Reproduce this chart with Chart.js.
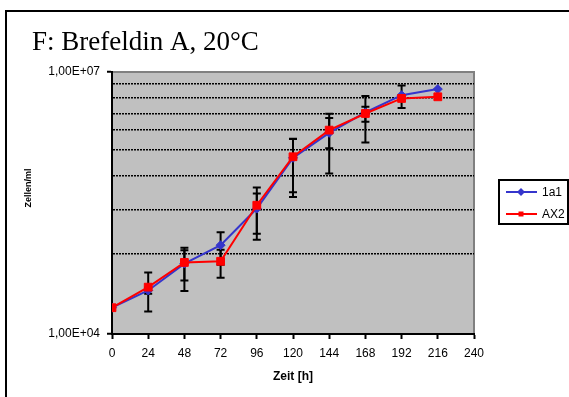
<!DOCTYPE html>
<html>
<head>
<meta charset="utf-8">
<script src="https://cdn.jsdelivr.net/npm/chart.js@4"></script>
<style>
  html, body { margin: 0; padding: 0; background: #fff; overflow: hidden; }
  #wrap { position: relative; width: 569px; height: 397px; }
  #rahmen { position: absolute; left: 5px; top: 10px; width: 620px; height: 520px; border: 2px solid #000; box-sizing: border-box; }
  canvas { position: absolute; left: 0; top: 0; }
</style>
</head>
<body>
<div id="wrap">
  <div id="rahmen"></div>
  <canvas id="chart" width="569" height="397"></canvas>
</div>
<script>
// Daten (Zellen/ml gegen Zeit in h)
const zeit = [0, 24, 48, 72, 96, 120, 144, 168, 192, 216];
const werte1a1 = [2.0e4, 3.15e4, 6.4e4, 1.04e5, 2.73e5, 1.04e6, 2.01e6, 3.44e6, 5.43e6, 6.37e6];
const werteAX2 = [2.0e4, 3.44e4, 6.6e4, 6.8e4, 2.98e5, 1.07e6, 2.16e6, 3.35e6, 4.98e6, 5.2e6];
// Fehlerbalken (+/-)
const fehler1a1 = [0, 0.26e4, 3.3e4, 4.2e4, 1.32e5, 6.7e5, 1.32e6, 1.88e6, 1.57e6, 0];
const fehlerAX2 = [0, 1.63e4, 2.5e4, 2.4e4, 1.78e5, 6.5e5, 0.82e6, 0.66e6, 0, 0];
// Achsen
const xTicks = [0, 24, 48, 72, 96, 120, 144, 168, 192, 216, 240];
const yGrenzen = [1e4, 1e7];
const yGitter = [8.3e4, 2.66e5, 6.45e5, 1.3e6, 2.16e6, 3.35e6, 5.06e6, 7.27e6];

const BLAU = '#3535cc';
const ROT = '#ff0000';
const SCHRIFT = "'Liberation Sans', Arial, sans-serif";

function fmtE(v) {
  const [m, e] = v.toExponential(2).split('e');
  return m.replace('.', ',') + 'E' + e[0] + e.slice(1).padStart(2, '0');
}
const istRand = v => yGrenzen.includes(v);

// Hintergrund der Zeichenfläche + graue Umrandung oben/rechts
const hintergrund = {
  id: 'hintergrund',
  beforeDraw(chart) {
    const { ctx, chartArea: a } = chart;
    ctx.save();
    ctx.fillStyle = '#c0c0c0';
    ctx.fillRect(a.left, a.top, a.right - a.left, a.bottom - a.top);
    ctx.strokeStyle = '#808080';
    ctx.lineWidth = 2;
    ctx.beginPath();
    ctx.moveTo(a.left, a.top);
    ctx.lineTo(a.right, a.top);
    ctx.lineTo(a.right, a.bottom);
    ctx.stroke();
    ctx.restore();
  }
};

// Fehlerbalken
const fehlerbalken = {
  id: 'fehlerbalken',
  beforeDatasetsDraw(chart) {
    const { ctx, scales: { x, y } } = chart;
    const reihen = [fehler1a1, fehlerAX2];
    const mittel = [werte1a1, werteAX2];
    ctx.save();
    ctx.strokeStyle = '#000';
    ctx.lineWidth = 2;
    reihen.forEach((err, s) => {
      zeit.forEach((t, i) => {
        if (!err[i]) return;
        const px = x.getPixelForValue(t);
        const hi = y.getPixelForValue(mittel[s][i] + err[i]);
        const lo = y.getPixelForValue(Math.max(mittel[s][i] - err[i], 1e4));
        ctx.beginPath();
        ctx.moveTo(px, hi); ctx.lineTo(px, lo);
        ctx.moveTo(px - 4, hi); ctx.lineTo(px + 4, hi);
        ctx.moveTo(px - 4, lo); ctx.lineTo(px + 4, lo);
        ctx.stroke();
      });
    });
    ctx.restore();
  }
};

// Titel, Y-Achsentitel, Legende
const beschriftung = {
  id: 'beschriftung',
  afterDraw(chart) {
    const ctx = chart.ctx;
    ctx.save();
    ctx.fillStyle = '#000';
    ctx.font = "27px 'Liberation Serif', 'Times New Roman', serif";
    ctx.textBaseline = 'alphabetic';
    ctx.textAlign = 'left';
    ctx.fillText('F: Brefeldin A, 20°C', 32, 50);

    ctx.save();
    ctx.translate(29, 188);
    ctx.rotate(-Math.PI / 2);
    ctx.font = 'bold 9px ' + SCHRIFT;
    ctx.textAlign = 'center';
    ctx.textBaseline = 'middle';
    ctx.fillText('Zellen/ml', 0, 0);
    ctx.restore();

    // Legende
    ctx.fillStyle = '#fff';
    ctx.fillRect(499, 180, 69, 44);
    ctx.strokeStyle = '#000';
    ctx.lineWidth = 2;
    ctx.strokeRect(499, 180, 69, 44);
    chart.data.datasets.forEach((ds, i) => {
      const yy = 192 + i * 22;
      ctx.strokeStyle = ds.borderColor;
      ctx.lineWidth = 2;
      ctx.beginPath();
      ctx.moveTo(506, yy); ctx.lineTo(537, yy);
      ctx.stroke();
      ctx.fillStyle = ds.borderColor;
      ctx.beginPath();
      if (ds.pointStyle === 'rectRot') {
        ctx.moveTo(521, yy - 4); ctx.lineTo(525, yy); ctx.lineTo(521, yy + 4); ctx.lineTo(517, yy);
      } else {
        ctx.rect(518.5, yy - 2.5, 5, 5);
      }
      ctx.closePath();
      ctx.fill();
      ctx.fillStyle = '#000';
      ctx.font = '12px ' + SCHRIFT;
      ctx.textAlign = 'left';
      ctx.textBaseline = 'middle';
      ctx.fillText(ds.label, 542, yy + 1);
    });
    ctx.restore();
  }
};

new Chart(document.getElementById('chart'), {
  type: 'line',
  data: {
    datasets: [
      {
        label: '1a1',
        data: zeit.map((t, i) => ({ x: t, y: werte1a1[i] })),
        borderColor: BLAU,
        backgroundColor: BLAU,
        borderWidth: 2,
        pointStyle: 'rectRot',
        pointRadius: 4.5,
        pointBorderWidth: 1,
        order: 1
      },
      {
        label: 'AX2',
        data: zeit.map((t, i) => ({ x: t, y: werteAX2[i] })),
        borderColor: ROT,
        backgroundColor: ROT,
        borderWidth: 2,
        pointStyle: 'rect',
        pointRadius: 5.5,
        pointBorderWidth: 1,
        order: 0
      }
    ]
  },
  options: {
    responsive: false,
    animation: false,
    devicePixelRatio: 1,
    layout: { padding: { top: 72, right: 95, bottom: 0, left: 0 } },
    plugins: { legend: { display: false }, tooltip: { enabled: false } },
    scales: {
      x: {
        type: 'linear',
        min: 0,
        max: 240,
        afterBuildTicks: s => { s.ticks = xTicks.map(v => ({ value: v })); },
        afterFit: s => { s.height = 63; },
        ticks: { color: '#000', font: { family: SCHRIFT, size: 12 }, padding: 7, autoSkip: false, maxRotation: 0 },
        grid: { drawOnChartArea: false, drawTicks: true, tickLength: 5, tickColor: '#000', tickWidth: 2 },
        border: { color: '#000', width: 2 },
        title: { display: true, text: 'Zeit [h]', color: '#000', font: { family: SCHRIFT, size: 12, weight: 'bold' }, padding: { top: 0, bottom: 13 } }
      },
      y: {
        type: 'logarithmic',
        min: 1e4,
        max: 1e7,
        afterBuildTicks: s => { s.ticks = yGrenzen.concat(yGitter).sort((a, b) => a - b).map(v => ({ value: v })); },
        afterFit: s => { s.width = 112; },
        ticks: {
          color: '#000',
          font: { family: SCHRIFT, size: 12 },
          padding: 7,
          autoSkip: false,
          callback: v => istRand(v) ? fmtE(v) : ''
        },
        grid: {
          color: c => (c.tick && istRand(c.tick.value)) ? 'rgba(0,0,0,0)' : '#000',
          lineWidth: 1.5,
          drawTicks: true,
          tickLength: 5,
          tickWidth: 2,
          tickColor: c => (c.tick && istRand(c.tick.value)) ? '#000' : 'rgba(0,0,0,0)'
        },
        border: { color: '#000', width: 2, dash: [2, 1] }
      }
    }
  },
  plugins: [hintergrund, fehlerbalken, beschriftung]
});
</script>
</body>
</html>
